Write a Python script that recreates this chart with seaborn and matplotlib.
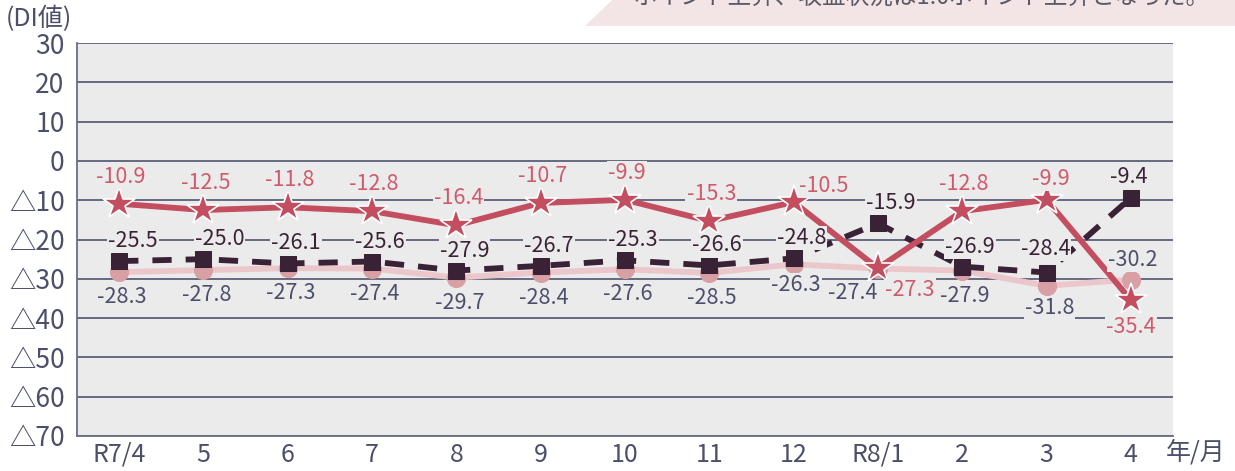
import matplotlib
matplotlib.use("Agg")
import matplotlib.pyplot as plt
import seaborn as sns
import pandas as pd
from matplotlib.patches import Polygon

# data
months = ["R7/4", "5", "6", "7", "8", "9", "10", "11", "12", "R8/1", "2", "3", "4"]
star_vals = [-10.9, -12.5, -11.8, -12.8, -16.4, -10.7, -9.9, -15.3, -10.5, -27.3, -12.8, -9.9, -35.4]
square_vals = [-25.5, -25.0, -26.1, -25.6, -27.9, -26.7, -25.3, -26.6, -24.8, -15.9, -26.9, -28.4, -9.4]
circle_vals = [-28.3, -27.8, -27.3, -27.4, -29.7, -28.4, -27.6, -28.5, -26.3, -27.4, -27.9, -31.8, -30.2]
y_ticks = [30, 20, 10, 0, -10, -20, -30, -40, -50, -60, -70]
y_ticklabels = ["30", "20", "10", "0", "△10", "△20", "△30", "△40", "△50", "△60", "△70"]

df = pd.DataFrame({
    "pos": range(len(months)),
    "star": star_vals,
    "square": square_vals,
    "circle": circle_vals,
})

sns.set_theme(style="white")
plt.rcParams["font.family"] = ["Noto Sans CJK JP", "DejaVu Sans"]

BG = "#ebebeb"
GRID = "#5b6079"
TXT = "#4b4f6a"
RED = "#c24e60"
RED_TXT = "#cf5a6b"
DARK = "#3a2236"
PINK_LINE = "#ebc6ca"
PINK_MK = "#d89fa5"

fig = plt.figure(figsize=(12.35, 4.71), dpi=100)
ax = fig.add_axes([77 / 1235, 35 / 471, 1096 / 1235, 393 / 471])
ax.set_facecolor(BG)

# banner at top right (text cut off by the figure edge)
fig.patches.append(Polygon([(585 / 1235, 1 - 26 / 471), (622 / 1235, 1.02), (1.0, 1.02), (1.0, 1 - 26 / 471)],
                           closed=True, transform=fig.transFigure, facecolor="#f3e4e5", edgecolor="none"))
fig.text(922 / 1235, 1 + 3 / 471, "ポイント上昇、収益状況は1.0ポイント上昇となった。",
         ha="center", va="center", fontsize=17, color="#5a5a66")

# series
sns.lineplot(data=df, x="pos", y="circle", ax=ax, color=PINK_LINE, linewidth=4.2,
             marker="o", markersize=13, markerfacecolor=PINK_MK, markeredgecolor=PINK_MK, zorder=3)
sns.lineplot(data=df, x="pos", y="square", ax=ax, color=DARK, linewidth=4.2, linestyle="--",
             marker="s", markersize=12, markerfacecolor=DARK, markeredgecolor=DARK, zorder=4)
ax.lines[-1].set_dashes([3.3, 2.4])
sns.lineplot(data=df, x="pos", y="star", ax=ax, color=RED, linewidth=4.2,
             marker="*", markersize=24, markerfacecolor=RED, markeredgecolor="white",
             markeredgewidth=1.2, zorder=5)

# value labels (pixel offsets, with a few overrides)
def put_labels(vals, color, default, overrides):
    for i, v in enumerate(vals):
        dx, dy = overrides.get(i, default)
        ax.annotate(f"{v:.1f}", (i, v), xytext=(dx, -dy), textcoords="offset pixels",
                    ha="center", va="center", fontsize=15.5, color=color, zorder=6,
                    bbox=dict(boxstyle="square,pad=0.05", facecolor=BG, edgecolor="none"))

put_labels(star_vals, RED_TXT, (2, -27), {8: (30, -16), 9: (32, 22), 11: (4, -21), 12: (0, 27)})
put_labels(square_vals, DARK, (8, -20), {0: (14, -20), 1: (16, -20), 9: (13, -20), 11: (-1, -24), 12: (-2, -21)})
put_labels(circle_vals, TXT, (3, 25), {8: (2, 21), 9: (-25, 24), 11: (3, 22), 12: (2, -20)})

# axes
ax.set_xlim(-0.5, len(months) - 0.5)
ax.set_ylim(-70, 30)
ax.set_yticks(y_ticks)
ax.set_yticklabels(y_ticklabels)
ax.set_xticks(range(len(months)))
ax.set_xticklabels(months)
ax.set_xticks([i + 0.5 for i in range(len(months))], minor=True)
ax.tick_params(axis="x", which="major", length=0, pad=4, labelsize=18, labelcolor=TXT)
ax.tick_params(axis="x", which="minor", direction="in", length=8, width=1.2, color="#6a6e84")
ax.tick_params(axis="y", length=0, pad=9, labelsize=19, labelcolor=TXT)
ax.set_xlabel("")
ax.set_ylabel("")
ax.yaxis.grid(True, color=GRID, linewidth=1.3, zorder=0)
ax.set_axisbelow(True)
for side in ["top", "right"]:
    ax.spines[side].set_visible(False)
for side in ["left", "bottom"]:
    ax.spines[side].set_color("#6a6e84")
    ax.spines[side].set_linewidth(1.3)

fig.text(6 / 1235, 1 - 19 / 471, "(DI値)", ha="left", va="center", fontsize=18, color=TXT)
fig.text(1196 / 1235, 1 - 453 / 471, "年/月", ha="center", va="center", fontsize=18, color=TXT)

fig.savefig("out.png", dpi=100)
